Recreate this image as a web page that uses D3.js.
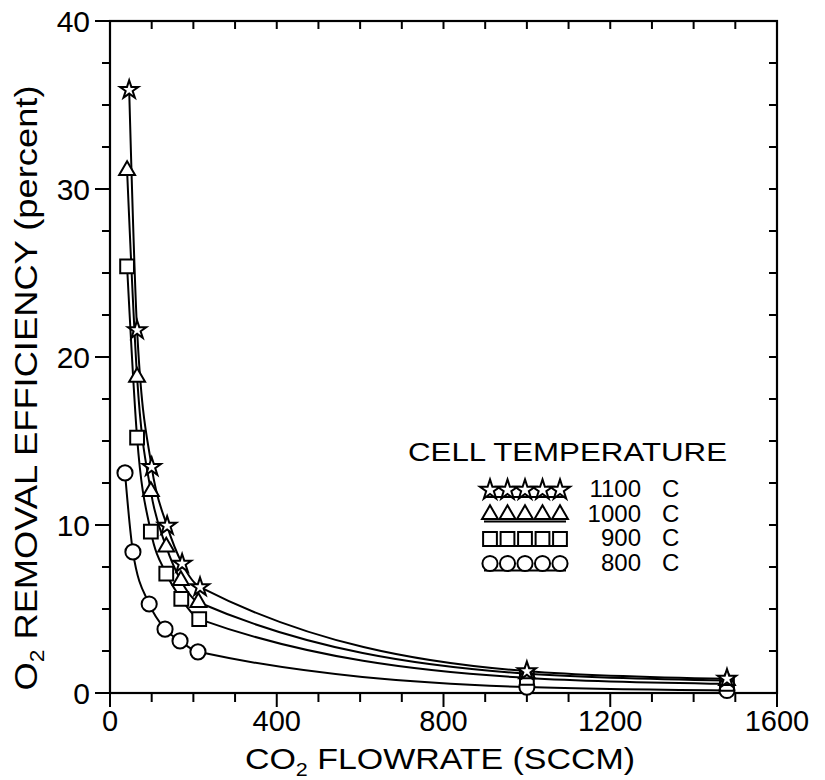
<!DOCTYPE html>
<html>
<head>
<meta charset="utf-8">
<script src="https://cdn.jsdelivr.net/npm/d3@7"></script>
<style>
  body { margin: 0; background: #fff; }
  text { font-family: "Liberation Sans", Arial, sans-serif; fill: #000; }
</style>
</head>
<body>
<div id="chart"></div>
<script>
// values (flowrate in SCCM, efficiency in percent)
const flow1100 = [46, 65, 100, 137, 173, 216, 1000, 1480];
const eff1100 = [35.9, 21.6, 13.45, 9.95, 7.7, 6.3, 1.3, 0.85];
const flow1000 = [41, 65, 98, 135, 170, 212, 1000, 1480];
const eff1000 = [31.1, 18.8, 12.0, 8.7, 6.7, 5.4, 1.15, 0.75];
const flow900 = [41, 65, 98, 135, 171, 214, 1000, 1480];
const eff900 = [25.4, 15.2, 9.6, 7.1, 5.6, 4.4, 0.9, 0.55];
const flow800 = [36, 55, 94, 132, 168, 211, 1000, 1480];
const eff800 = [13.1, 8.4, 5.3, 3.8, 3.1, 2.45, 0.35, 0.15];

const seriesNames = ["1100 C", "1000 C", "900 C", "800 C"];
const seriesSymbols = ["star", "triangle", "square", "circle"];
const xTickLabels = [0, 400, 800, 1200, 1600];
const yTickLabels = [0, 10, 20, 30, 40];

const W = 825, H = 780;
const margin = { top: 21, right: 48, bottom: 87, left: 110 };
const width = W - margin.left - margin.right;
const height = H - margin.top - margin.bottom;

const svg = d3.select("#chart").append("svg")
    .attr("width", W)
    .attr("height", H);

const g = svg.append("g")
    .attr("transform", `translate(${margin.left},${margin.top})`);

const x = d3.scaleLinear().domain([0, 1600]).range([0, width]);
const y = d3.scaleLinear().domain([0, 40]).range([height, 0]);

const symbolType = {
    star: d3.symbolStar,
    triangle: d3.symbolTriangle,
    square: d3.symbolSquare,
    circle: d3.symbolCircle
};
const symbolSize = { star: 105, triangle: 110, square: 190, circle: 180 };

function drawSymbol(sel, kind, scale) {
    sel.attr("d", d3.symbol().type(symbolType[kind]).size(symbolSize[kind] * (scale || 1)))
        .attr("fill", "#fff")
        .attr("stroke", "#000")
        .attr("stroke-width", 2);
}

// frame ticks
const minorX = d3.range(0, 1601, 100);
const minorY = d3.range(0, 40.1, 2.5);

// bottom: outward, longer at labels
g.append("g").selectAll("line").data(minorX).enter().append("line")
    .attr("x1", d => x(d)).attr("x2", d => x(d))
    .attr("y1", height).attr("y2", d => height + (d % 400 === 0 ? 14 : 9))
    .attr("stroke", "#000").attr("stroke-width", 2);
// top: inward
g.append("g").selectAll("line").data(minorX).enter().append("line")
    .attr("x1", d => x(d)).attr("x2", d => x(d))
    .attr("y1", 0).attr("y2", 8)
    .attr("stroke", "#000").attr("stroke-width", 2);
// left: outward
g.append("g").selectAll("line").data(minorY).enter().append("line")
    .attr("y1", d => y(d)).attr("y2", d => y(d))
    .attr("x1", 0).attr("x2", d => -(d % 10 === 0 ? 15 : 8))
    .attr("stroke", "#000").attr("stroke-width", 2);
// right: inward
g.append("g").selectAll("line").data(minorY).enter().append("line")
    .attr("y1", d => y(d)).attr("y2", d => y(d))
    .attr("x1", width).attr("x2", width - 8)
    .attr("stroke", "#000").attr("stroke-width", 2);

g.append("rect")
    .attr("width", width).attr("height", height)
    .attr("fill", "none").attr("stroke", "#000").attr("stroke-width", 2.2);

g.append("g").selectAll("text").data(xTickLabels).enter().append("text")
    .attr("x", d => x(d)).attr("y", height + 38)
    .attr("text-anchor", "middle")
    .attr("font-size", 29)
    .text(d => d);

g.append("g").selectAll("text").data(yTickLabels).enter().append("text")
    .attr("x", -20).attr("y", d => y(d) + 11)
    .attr("text-anchor", "end")
    .attr("font-size", 30)
    .text(d => d);

// axis titles
const xt = svg.append("text")
    .attr("x", 440).attr("y", 769)
    .attr("text-anchor", "middle")
    .attr("font-size", 30)
    .attr("textLength", 390).attr("lengthAdjust", "spacingAndGlyphs");
xt.append("tspan").text("CO");
xt.append("tspan").attr("font-size", 19).attr("dy", 7).text("2");
xt.append("tspan").attr("dy", -7).text(" FLOWRATE  (SCCM)");

const yt = svg.append("text")
    .attr("transform", "translate(37,388) rotate(-90)")
    .attr("text-anchor", "middle")
    .attr("font-size", 32)
    .attr("textLength", 605).attr("lengthAdjust", "spacingAndGlyphs");
yt.append("tspan").text("O");
yt.append("tspan").attr("font-size", 20).attr("dy", 7).text("2");
yt.append("tspan").attr("dy", -7).text(" REMOVAL  EFFICIENCY  (percent)");

// series
const series = [
    { name: seriesNames[3], sym: seriesSymbols[3], xs: flow800, ys: eff800 },
    { name: seriesNames[2], sym: seriesSymbols[2], xs: flow900, ys: eff900 },
    { name: seriesNames[1], sym: seriesSymbols[1], xs: flow1000, ys: eff1000 },
    { name: seriesNames[0], sym: seriesSymbols[0], xs: flow1100, ys: eff1100 }
];

const line = d3.line()
    .x(d => x(d[0]))
    .y(d => y(d[1]))
    .curve(d3.curveMonotoneX);

series.forEach(s => {
    const pts = s.xs.map((v, i) => [v, s.ys[i]]);
    g.append("path")
        .datum(pts)
        .attr("d", line)
        .attr("fill", "none")
        .attr("stroke", "#000")
        .attr("stroke-width", 2);
});

series.forEach(s => {
    const pts = s.xs.map((v, i) => [v, s.ys[i]]);
    g.append("g").selectAll("path").data(pts).enter().append("path")
        .attr("transform", d => `translate(${x(d[0])},${y(d[1])})`)
        .call(drawSymbol, s.sym);
});

// legend
const legend = svg.append("g");
legend.append("text")
    .attr("x", 408).attr("y", 461)
    .attr("font-size", 25)
    .attr("textLength", 319).attr("lengthAdjust", "spacingAndGlyphs")
    .text("CELL  TEMPERATURE");

const legendRows = [seriesNames[0], seriesNames[1], seriesNames[2], seriesNames[3]];
const legendScale = { star: 1.2, triangle: 1.0, square: 1.0, circle: 1.0 };
legendRows.forEach((name, i) => {
    const by = 497 + i * 24.5;
    const sym = seriesSymbols[i];
    const row = legend.append("g");
    row.append("line")
        .attr("x1", 484).attr("x2", 566)
        .attr("y1", by).attr("y2", by)
        .attr("stroke", "#000").attr("stroke-width", 2);
    row.selectAll("path").data(d3.range(5)).enter().append("path")
        .attr("transform", k => `translate(${490 + k * 17.5},${by - 7})`)
        .call(drawSymbol, sym, legendScale[sym]);
    const parts = name.split(" ");
    row.append("text")
        .attr("x", 641).attr("y", by)
        .attr("text-anchor", "end")
        .attr("font-size", 24)
        .text(parts[0]);
    row.append("text")
        .attr("x", 662).attr("y", by)
        .attr("font-size", 24)
        .text(parts[1]);
});
</script>
</body>
</html>
